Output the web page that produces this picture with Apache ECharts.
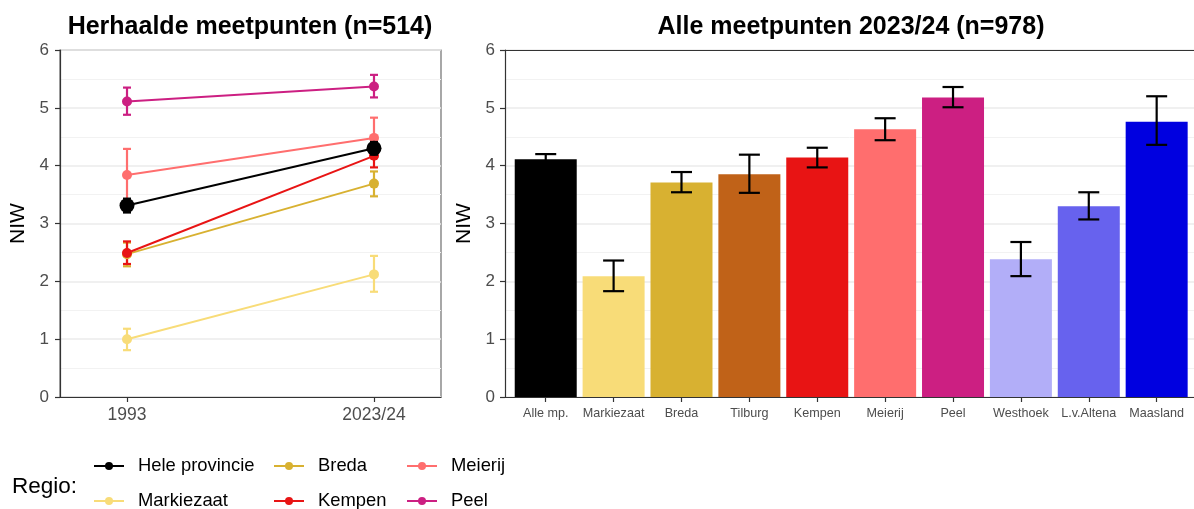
<!DOCTYPE html>
<html>
<head>
<meta charset="utf-8">
<script src="https://cdn.jsdelivr.net/npm/echarts@6/dist/echarts.min.js"></script>
<style>
html,body{margin:0;padding:0;background:#fff;}
#chart{width:1194px;height:509px;}
</style>
</head>
<body>
<div id="chart"></div>
<script>
// ---- Left panel data (repeated measuring points) ----
const periods = ['1993', '2023/24'];
const regionNames = ['Hele provincie', 'Markiezaat', 'Breda', 'Kempen', 'Meierij', 'Peel'];
const heleProvincie = [3.31, 4.30];
const heleProvincieLo = [3.19, 4.19];
const heleProvincieHi = [3.43, 4.41];
const markiezaat = [1.00, 2.12];
const markiezaatLo = [0.81, 1.82];
const markiezaatHi = [1.18, 2.44];
const breda = [2.47, 3.69];
const bredaLo = [2.26, 3.47];
const bredaHi = [2.67, 3.90];
const kempen = [2.49, 4.17];
const kempenLo = [2.30, 3.97];
const kempenHi = [2.69, 4.37];
const meierij = [3.84, 4.48];
const meierijLo = [3.39, 4.13];
const meierijHi = [4.29, 4.83];
const peel = [5.11, 5.37];
const peelLo = [4.88, 5.18];
const peelHi = [5.35, 5.57];

// ---- Right panel data (all measuring points 2023/24) ----
const barCategories = ['Alle mp.', 'Markiezaat', 'Breda', 'Tilburg', 'Kempen', 'Meierij', 'Peel', 'Westhoek', 'L.v.Altena', 'Maasland'];
const barValues = [4.11, 2.09, 3.71, 3.85, 4.14, 4.63, 5.18, 2.38, 3.30, 4.76];
const barLower = [4.02, 1.83, 3.54, 3.53, 3.97, 4.44, 5.01, 2.09, 3.07, 4.36];
const barUpper = [4.20, 2.36, 3.89, 4.19, 4.31, 4.82, 5.36, 2.68, 3.54, 5.20];

// ---- styles ----
const regionColors = {
  'Hele provincie': '#000000', 'Markiezaat': '#F8DC78', 'Breda': '#D8B131',
  'Kempen': '#E81414', 'Meierij': '#FF6E6E', 'Peel': '#CC1F82'
};
const barColors = ['#000000', '#F8DC78', '#D8B131', '#C06218', '#E81414', '#FF6E6E', '#CC1F82', '#B2AEF8', '#6762EE', '#0000E0'];

const FONT = 'Liberation Sans, Arial, sans-serif';
const leftSeriesData = {
  'Hele provincie': [heleProvincie, heleProvincieLo, heleProvincieHi],
  'Markiezaat': [markiezaat, markiezaatLo, markiezaatHi],
  'Breda': [breda, bredaLo, bredaHi],
  'Kempen': [kempen, kempenLo, kempenHi],
  'Meierij': [meierij, meierijLo, meierijHi],
  'Peel': [peel, peelLo, peelHi]
};

function errorBarRender(capHalf, lw, colorFn) {
  return function (params, api) {
    const x = api.value(0), lo = api.value(1), hi = api.value(2);
    const pLo = api.coord([x, lo]);
    const pHi = api.coord([x, hi]);
    const color = colorFn(params);
    const style = { stroke: color, lineWidth: lw };
    return {
      type: 'group',
      children: [
        { type: 'line', shape: { x1: pLo[0], y1: pLo[1], x2: pHi[0], y2: pHi[1] }, style: style },
        { type: 'line', shape: { x1: pLo[0] - capHalf, y1: pLo[1], x2: pLo[0] + capHalf, y2: pLo[1] }, style: style },
        { type: 'line', shape: { x1: pHi[0] - capHalf, y1: pHi[1], x2: pHi[0] + capHalf, y2: pHi[1] }, style: style }
      ]
    };
  };
}

function yAxisCommon(gridIndex) {
  return {
    type: 'value', gridIndex: gridIndex, min: 0, max: 6, interval: 1,
    name: 'NIW', nameLocation: 'middle', nameGap: gridIndex === 0 ? 31 : 23,
    nameTextStyle: { fontFamily: FONT, fontSize: 21, color: '#000' },
    axisLine: { show: true, onZero: false, lineStyle: { color: '#333', width: 1.2 } },
    axisTick: { show: true, length: 5, lineStyle: { color: '#333', width: 1.2 } },
    axisLabel: { fontFamily: FONT, fontSize: 17, color: '#4D4D4D', margin: gridIndex === 0 ? 11 : 10 },
    splitLine: { show: true, lineStyle: { color: '#EBEBEB', width: 1.6 } },
    minorTick: { show: false, splitNumber: 2 },
    minorSplitLine: { show: true, lineStyle: { color: '#F2F2F2', width: 1 } }
  };
}

const series = [];
const drawOrder = ['Markiezaat', 'Breda', 'Meierij', 'Peel', 'Hele provincie', 'Kempen'];
drawOrder.forEach(function (name) {
  const d = leftSeriesData[name];
  const isHele = name === 'Hele provincie';
  series.push({
    name: name, type: 'line', xAxisIndex: 0, yAxisIndex: 0,
    data: periods.map(function (p, i) { return [i, d[0][i]]; }),
    symbol: 'circle', symbolSize: isHele ? 15 : 10,
    lineStyle: { color: regionColors[name], width: 2 },
    itemStyle: { color: regionColors[name] },
    z: isHele ? 3 : 2
  });
  series.push({
    name: name + '_err', type: 'custom', xAxisIndex: 0, yAxisIndex: 0,
    data: periods.map(function (p, i) { return [i, d[1][i], d[2][i]]; }),
    renderItem: errorBarRender(4, 2.2, function () { return regionColors[name]; }),
    z: isHele ? 3 : 2, silent: true
  });
});

series.push({
  name: 'bars', type: 'bar', xAxisIndex: 1, yAxisIndex: 1,
  data: barValues.map(function (v, i) { return { value: [i, v], itemStyle: { color: barColors[i] } }; }),
  barWidth: 62
});
series.push({
  name: 'barErr', type: 'custom', xAxisIndex: 1, yAxisIndex: 1,
  data: barCategories.map(function (c, i) { return [i, barLower[i], barUpper[i]]; }),
  renderItem: errorBarRender(10.5, 2.2, function () { return '#000'; }),
  z: 5, silent: true
});

function legendCfg(left, top, name) {
  return {
    orient: 'horizontal', left: left, top: top, padding: 0,
    itemWidth: 30, itemHeight: 10, itemGap: 0,
    data: [name],
    textStyle: { fontFamily: FONT, fontSize: 18.4, color: '#000', padding: [0, 0, 0, 9] },
    selectedMode: false
  };
}

const barIdx = barCategories.map(function (c, i) { return i; });

const option = {
  animation: false,
  backgroundColor: '#fff',
  title: [
    { text: 'Herhaalde meetpunten (n=514)', left: 245, top: 10, textAlign: 'center',
      textStyle: { fontFamily: FONT, fontSize: 25, fontWeight: 'bold', color: '#000' } },
    { text: 'Alle meetpunten 2023/24 (n=978)', left: 846, top: 10, textAlign: 'center',
      textStyle: { fontFamily: FONT, fontSize: 25, fontWeight: 'bold', color: '#000' } },
    { text: 'Regio:', left: 7, top: 470,
      textStyle: { fontFamily: FONT, fontSize: 22.5, fontWeight: 'normal', color: '#000' } }
  ],
  legend: [
    legendCfg(93, 457, 'Hele provincie'),
    legendCfg(93, 492, 'Markiezaat'),
    legendCfg(273, 457, 'Breda'),
    legendCfg(273, 492, 'Kempen'),
    legendCfg(406, 457, 'Meierij'),
    legendCfg(406, 492, 'Peel')
  ],
  grid: [
    { left: 60, top: 50, width: 381, height: 347, show: true, borderColor: '#6E6E6E', borderWidth: 1.2, backgroundColor: 'transparent' },
    { left: 505, top: 50, width: 689, height: 347, show: false }
  ],
  xAxis: [
    {
      type: 'value', gridIndex: 0, min: -0.2713, max: 1.2713,
      axisLine: { show: true, onZero: false, lineStyle: { color: '#333', width: 1.2 } },
      axisTick: { show: true, length: 5, customValues: [0, 1], lineStyle: { color: '#333', width: 1.2 } },
      axisLabel: { fontFamily: FONT, fontSize: 17.5, color: '#4D4D4D', margin: 9,
        customValues: [0, 1],
        formatter: function (v) { return periods[Math.round(v)]; } },
      splitLine: { show: false }
    },
    {
      type: 'value', gridIndex: 1, min: -0.6, max: 9.55,
      axisLine: { show: true, onZero: false, lineStyle: { color: '#333', width: 1.2 } },
      axisTick: { show: true, length: 5, customValues: barIdx, lineStyle: { color: '#333', width: 1.2 } },
      axisLabel: { fontFamily: FONT, fontSize: 12.6, color: '#4D4D4D', margin: 10,
        customValues: barIdx,
        formatter: function (v) { return barCategories[Math.round(v)]; } },
      splitLine: { show: false }
    },
    {
      type: 'value', gridIndex: 1, min: -0.6, max: 9.55, position: 'top',
      axisLine: { show: true, onZero: false, lineStyle: { color: '#333', width: 1.2 } },
      axisTick: { show: false }, axisLabel: { show: false }, splitLine: { show: false }
    }
  ],
  yAxis: [yAxisCommon(0), yAxisCommon(1)],
  series: series
};

const chart = echarts.init(document.getElementById('chart'), null, { renderer: 'canvas' });
chart.setOption(option);
</script>
</body>
</html>
